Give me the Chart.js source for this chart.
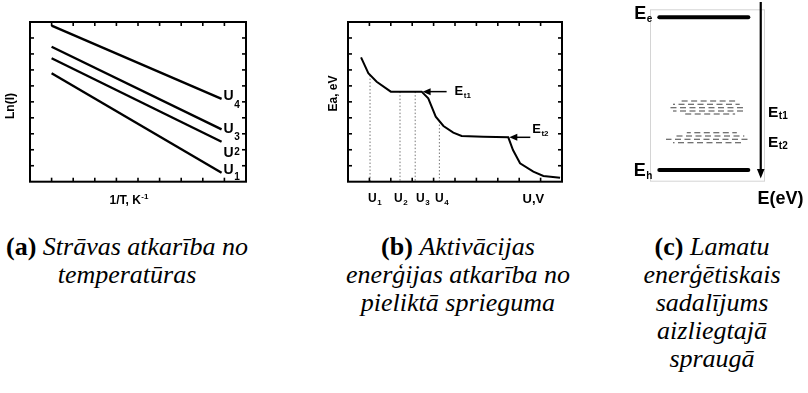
<!DOCTYPE html>
<html>
<head>
<meta charset="utf-8">
<script src="https://cdn.jsdelivr.net/npm/chart.js@4.4.1/dist/chart.umd.min.js"></script>
<style>
  html, body { margin: 0; padding: 0; background: #fff; width: 808px; height: 393px; overflow: hidden; }
  canvas { position: absolute; top: 0; }
  .cap {
    position: absolute;
    font-family: "Liberation Serif", "Times New Roman", Times, serif;
    font-size: 26px;
    line-height: 28px;
    text-align: center;
    color: #000;
    white-space: nowrap;
    transform: translateX(-50%);
  }
  .cap b { font-weight: bold; font-style: normal; }
  .cap i { font-style: italic; }
</style>
</head>
<body>
<canvas id="panelA" width="260" height="215" style="left:0px"></canvas>
<canvas id="panelB" width="280" height="215" style="left:300px"></canvas>
<canvas id="panelC" width="208" height="215" style="left:600px"></canvas>

<div class="cap" style="left:127px; top:233px"><b>(a)</b> <i>Strāvas atkarība no<br>temperatūras</i></div>
<div class="cap" style="left:458px; top:233px"><b>(b)</b> <i>Aktivācijas<br>enerģijas atkarība no<br>pieliktā sprieguma</i></div>
<div class="cap" style="left:712px; top:233px"><b>(c)</b> <i>Lamatu<br>enerģētiskais<br>sadalījums<br>aizliegtajā<br>spraugā</i></div>

<script>
// ---- (a) ln(I) against 1/T for four bias voltages ----
const invT   = [1.0, 8.87];
const lnI_U1 = [6.79, 0.56];
const lnI_U2 = [7.73, 2.50];
const lnI_U3 = [8.45, 3.28];
const lnI_U4 = [9.77, 5.18];
const biasNames = ['U1', 'U2', 'U3', 'U4'];

// ---- (b) activation energy against applied voltage ----
const voltage          = [0.61, 0.95, 1.34, 2.00, 3.44, 3.75, 4.10, 4.46, 4.92, 5.31, 6.32, 7.49, 7.71, 8.04, 8.66, 9.13, 9.91];
const activationEnergy = [7.79, 6.79, 6.26, 5.64, 5.64, 5.22, 4.07, 3.49, 3.07, 2.86, 2.82, 2.78, 1.98, 1.15, 0.63, 0.36, 0.25];
const biasVoltages     = [1.03, 2.43, 3.14, 4.27];
const biasEnergies     = [6.68, 5.64, 5.64, 3.80];
const trapNames        = ['Et1', 'Et2'];
const trapVoltages     = [3.44, 7.49];
const trapEnergies     = [5.64, 2.78];

// ---- (c) trap levels inside the band gap ----
const bandEdgeNames    = ['Ee', 'Eh'];
const bandEdgeEnergies = [9.54, 0.68];
const bandEdgeSpan     = [0.81, 8.55];
const trapRowsEt1      = [4.68, 4.49, 4.29, 4.10, 3.93];
const trapRowsEt1From  = [2.75, 2.00, 1.65, 2.00, 2.80];
const trapRowsEt1To    = [7.40, 7.80, 8.35, 8.10, 7.40];
const trapRowsEt2      = [2.84, 2.65, 2.46, 2.26];
const trapRowsEt2From  = [3.20, 2.00, 1.39, 2.00];
const trapRowsEt2To    = [7.55, 8.20, 8.70, 8.10];

const SANS = '"Liberation Sans", Arial, sans-serif';

function pts(xs, ys) { return xs.map((v, i) => ({ x: v, y: ys[i] })); }

function subText(ctx, base, sub, x, y, size, subSize, subDy) {
  ctx.font = 'bold ' + size + 'px ' + SANS;
  ctx.fillText(base, x, y);
  const w = ctx.measureText(base).width;
  ctx.font = 'bold ' + subSize + 'px ' + SANS;
  ctx.fillText(sub, x + w + 0.5, y + subDy);
}

function seg(ctx, x1, y1, x2, y2) {
  ctx.beginPath(); ctx.moveTo(x1, y1); ctx.lineTo(x2, y2); ctx.stroke();
}

// black frame with inward ticks on all four sides
const frameTicks = {
  id: 'frameTicks',
  afterDraw(chart) {
    const { ctx, chartArea: a, scales: { x, y } } = chart;
    ctx.save();
    ctx.strokeStyle = '#000';
    ctx.lineWidth = 1.6;
    for (let v = 1; v < 10; v++) {
      const px = x.getPixelForValue(v);
      seg(ctx, px, a.bottom, px, a.bottom - 4);
      seg(ctx, px, a.top, px, a.top + 4);
      const py = y.getPixelForValue(v);
      seg(ctx, a.left, py, a.left + 4, py);
      seg(ctx, a.right, py, a.right - 4, py);
    }
    ctx.lineWidth = 2;
    ctx.strokeRect(a.left, a.top, a.right - a.left, a.bottom - a.top);
    ctx.restore();
  }
};

function baseOptions(padding, xmax, ymax) {
  return {
    responsive: false,
    animation: false,
    devicePixelRatio: 1,
    layout: { padding },
    plugins: { legend: { display: false }, tooltip: { enabled: false } },
    scales: {
      x: { type: 'linear', min: 0, max: xmax, display: false },
      y: { type: 'linear', min: 0, max: ymax, display: false }
    },
    elements: { point: { radius: 0 } }
  };
}

// ---------- panel (a) ----------
const seriesA = [lnI_U1, lnI_U2, lnI_U3, lnI_U4];
const labelStyleA = [
  { dx: 2, dy: 1.5, subDy: 6 },
  { dx: 2, dy: 15, subDy: -2 },
  { dx: 2, dy: 3.5, subDy: 7 },
  { dx: 2, dy: 1.5, subDy: 7.5 }
];
new Chart(document.getElementById('panelA'), {
  type: 'scatter',
  data: {
    datasets: seriesA.map((s, i) => ({
      label: biasNames[i],
      data: pts(invT, s),
      showLine: true,
      borderColor: '#000',
      borderWidth: 2.4,
      pointRadius: 0
    }))
  },
  options: baseOptions({ left: 30, top: 22, right: 14, bottom: 33.3 }, 10, 10),
  plugins: [frameTicks, {
    id: 'labelsA',
    afterDraw(chart) {
      const { ctx, scales: { x, y } } = chart;
      ctx.save();
      ctx.fillStyle = '#000';
      seriesA.forEach((s, i) => {
        const px = x.getPixelForValue(invT[1]);
        const py = y.getPixelForValue(s[1]);
        const st = labelStyleA[i];
        subText(ctx, 'U', biasNames[i].slice(1), px + st.dx, py + st.dy, 14, 10, st.subDy);
      });
      // axis titles
      ctx.font = 'bold 12px ' + SANS;
      ctx.textAlign = 'left';
      ctx.fillText('1/T, K', 109.5, 204);
      const w = ctx.measureText('1/T, K').width;
      ctx.font = 'bold 8px ' + SANS;
      ctx.fillText('-1', 109.5 + w + 0.5, 199);
      ctx.translate(14, 106);
      ctx.rotate(-Math.PI / 2);
      ctx.font = 'bold 12px ' + SANS;
      ctx.textAlign = 'center';
      ctx.fillText('Ln(I)', 0, 0);
      ctx.restore();
    }
  }]
});

// ---------- panel (b) ----------
const trapLabelStyle = [
  { arrowLen: 24, dx: 32, dy: 3.5, subDy: 3 },
  { arrowLen: 21, dx: 23, dy: -4.5, subDy: 3 }
];
const biasLabelLeft = [368, 394, 416, 435];
new Chart(document.getElementById('panelB'), {
  type: 'scatter',
  data: {
    datasets: [
      {
        label: 'Ea',
        data: pts(voltage, activationEnergy),
        showLine: true,
        borderColor: '#000',
        borderWidth: 2,
        pointRadius: 0
      },
      ...biasVoltages.map((u, i) => ({
        label: biasNames[i],
        data: [{ x: u, y: biasEnergies[i] }, { x: u, y: 0 }],
        showLine: true,
        borderColor: '#777',
        borderWidth: 1,
        borderDash: [1.5, 2],
        pointRadius: 0
      }))
    ]
  },
  options: baseOptions({ left: 48, top: 22, right: 18, bottom: 33.3 }, 10, 10),
  plugins: [frameTicks, {
    id: 'labelsB',
    afterDraw(chart) {
      const { ctx, scales: { x, y } } = chart;
      ctx.save();
      ctx.fillStyle = '#000';
      ctx.strokeStyle = '#000';
      trapNames.forEach((n, i) => {
        const tx = x.getPixelForValue(trapVoltages[i]) + 1;
        const ty = y.getPixelForValue(trapEnergies[i]);
        const st = trapLabelStyle[i];
        ctx.lineWidth = 1.5;
        seg(ctx, tx + 6, ty, tx + st.arrowLen, ty);
        ctx.beginPath();
        ctx.moveTo(tx, ty);
        ctx.lineTo(tx + 8, ty - 3.5);
        ctx.lineTo(tx + 8, ty + 3.5);
        ctx.closePath();
        ctx.fill();
        subText(ctx, 'E', n.slice(1), tx + st.dx, ty + st.dy, 13, 8, st.subDy);
      });
      // voltage labels under the axis
      biasNames.forEach((n, i) => {
        subText(ctx, 'U', n.slice(1), biasLabelLeft[i] - 300, 202, 12, 8, 3);
      });
      ctx.font = 'bold 13px ' + SANS;
      ctx.fillText('U,V', 222.5, 203);
      ctx.translate(36.5, 93.5);
      ctx.rotate(-Math.PI / 2);
      ctx.font = 'bold 12px ' + SANS;
      ctx.textAlign = 'center';
      ctx.fillText('Ea, eV', 0, 0);
      ctx.restore();
    }
  }]
});

// ---------- panel (c) ----------
function trapRowSets(ys, from, to, offset) {
  return ys.map((e, i) => ({
    label: 'trap',
    data: [{ x: from[i], y: e }, { x: to[i], y: e }],
    showLine: true,
    borderColor: '#444',
    borderWidth: 1.1,
    borderDash: [6, 3.5],
    borderDashOffset: (i * 4 + offset) % 9.5,
    pointRadius: 0
  }));
}
new Chart(document.getElementById('panelC'), {
  type: 'scatter',
  data: {
    datasets: [
      ...bandEdgeEnergies.map((e, i) => ({
        label: bandEdgeNames[i],
        data: [{ x: bandEdgeSpan[0], y: e }, { x: bandEdgeSpan[1], y: e }],
        showLine: true,
        borderColor: '#000',
        borderWidth: 4,
        borderCapStyle: 'round',
        pointRadius: 0
      })),
      ...trapRowSets(trapRowsEt1, trapRowsEt1From, trapRowsEt1To, 0),
      ...trapRowSets(trapRowsEt2, trapRowsEt2From, trapRowsEt2To, 2)
    ]
  },
  options: baseOptions({ left: 50, top: 9.3, right: 43, bottom: 33.3 }, 10, 10),
  plugins: [{
    id: 'gapFrame',
    beforeDatasetsDraw(chart) {
      const { ctx, chartArea: a } = chart;
      ctx.save();
      ctx.strokeStyle = '#d4d4d4';
      ctx.lineWidth = 1;
      ctx.strokeRect(a.left + 0.5, a.top + 0.5, a.right - a.left - 1, a.bottom - a.top - 1);
      ctx.restore();
    },
    afterDraw(chart) {
      const { ctx, scales: { x, y } } = chart;
      ctx.save();
      ctx.fillStyle = '#000';
      ctx.strokeStyle = '#000';
      // energy axis arrow
      const ax = x.getPixelForValue(9.63);
      ctx.lineWidth = 2.2;
      seg(ctx, ax, 2, ax, 170);
      ctx.beginPath();
      ctx.moveTo(ax, 178.5);
      ctx.lineTo(ax - 3.8, 169);
      ctx.lineTo(ax + 3.8, 169);
      ctx.closePath();
      ctx.fill();
      // band edge labels
      const lx = x.getPixelForValue(bandEdgeSpan[0]);
      subText(ctx, 'E', 'e', lx - 25, y.getPixelForValue(bandEdgeEnergies[0]) + 2, 18, 10, 2.5);
      subText(ctx, 'E', 'h', lx - 25.5, y.getPixelForValue(bandEdgeEnergies[1]) + 6.5, 18, 10, 2.5);
      // trap level labels
      subText(ctx, 'E', 't1', 168, 116.7, 15.5, 10, 2);
      subText(ctx, 'E', 't2', 168, 146.5, 15.5, 10, 2);
      ctx.font = 'bold 18px ' + SANS;
      ctx.fillText('E(eV)', 157.5, 204);
      ctx.restore();
    }
  }]
});
</script>
</body>
</html>
